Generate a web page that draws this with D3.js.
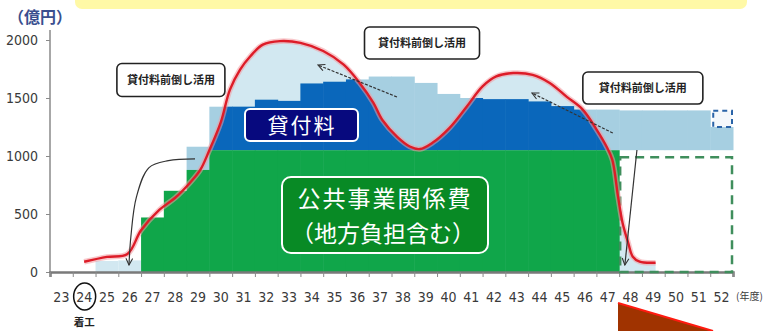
<!DOCTYPE html>
<html>
<head>
<meta charset="utf-8">
<script src="https://cdn.jsdelivr.net/npm/d3@7"></script>
<style>
  html, body { margin: 0; padding: 0; background: #fff; }
  svg { display: block; }
  .num { font-family: "Liberation Sans Narrow", "DejaVu Sans Condensed", "Liberation Sans", Arial, sans-serif; }
  .jp { font-family: "Noto Sans CJK JP", "Noto Sans", sans-serif; }
</style>
</head>
<body>
<svg id="chart" width="765" height="331"></svg>
<script>
// ---- data (億円, fiscal years) ----
const yearLabels = ["23","24","25","26","27","28","29","30","31","32","33","34","35","36","37",
                    "38","39","40","41","42","43","44","45","46","47","48","49","50","51","52"];
const yTickValues = [0, 500, 1000, 1500, 2000];

// public works spending (incl. local share)
const worksYears  = [27, 28, 29, 30, 31, 32, 33, 34, 35, 36, 37, 38, 39, 40, 41, 42, 43, 44, 45, 46, 47];
const worksValues = [470, 700, 880, 1050, 1050, 1050, 1050, 1050, 1050, 1050, 1050, 1050, 1050, 1050,
                     1050, 1050, 1050, 1050, 1050, 1050, 1050];

// loan fee, stacked on top of public works
const loanYears  = [30, 31, 32, 33, 34, 35, 36, 37, 38, 39, 40, 41, 42, 43, 44, 45, 46, 47];
const loanValues = [375, 375, 435, 425, 575, 590, 610, 635, 635, 580, 485, 450, 440, 440, 420, 380, 350, 350];

// loan fee brought forward
const advanceYears  = [29, 48, 49, 50, 51, 52];
const advanceBase   = [880, 1050, 1050, 1050, 1050, 1050];
const advanceValues = [200, 343, 343, 343, 343, 200];

// early small spending before works start
const earlyYears  = [25, 26];
const earlyValues = [95, 100];

// planned public works after the period (dashed outline)
const plannedYears = [48, 49, 50, 51, 52];
const plannedValue = 990;

// remaining loan fee (dashed outline)
const pendingYear  = 52;
const pendingBase  = 1250;
const pendingValue = 140;

// actual spending curve
const curveYears  = [24.0, 25.0, 25.9, 26.5, 27.3, 28.0, 28.65, 29.1, 29.5, 30.0, 30.4, 30.85, 31.3, 31.85,
                     32.6, 33.5, 34.5, 35.4, 36.1, 36.7, 37.1, 37.75, 38.3, 38.75, 39.3, 40.05, 40.8, 41.5,
                     42.1, 42.85, 43.7, 44.45, 45.2, 45.9, 46.5, 46.95, 47.2, 47.45, 47.65, 47.9, 48.1, 48.4, 49.1];
const curveValues = [88, 130, 155, 360, 535, 640, 770, 880, 1050, 1290, 1570, 1745, 1860, 1960,
                     1990, 1975, 1905, 1787, 1630, 1460, 1310, 1165, 1082, 1060, 1114, 1243, 1425, 1600,
                     1686, 1715, 1700, 1630, 1510, 1400, 1230, 1080, 967, 650, 423, 250, 132, 89, 80];

const calloutText = "貸付料前倒し活用";

// ---- layout ----
const svg = d3.select("#chart");
const plotLeft = 50, plotRight = 733, plotTop = 40, plotBottom = 272;

const x = d3.scaleBand().domain(yearLabels).range([plotLeft, plotRight]).padding(0);
const xl = d3.scaleLinear().domain([22.5, 52.5]).range([plotLeft, plotRight]);
const y = d3.scaleLinear().domain([0, 2000]).range([plotBottom, plotTop]);

const C = {
  green: "#10a64a", blue: "#0a67bb", mid: "#a6cfe1", pale: "#d2e8f1",
  red: "#dd1c28", halo: "#f39aa0"
};

const bx = yr => x(String(yr));
const bw = x.bandwidth();

// top yellow strip
svg.append("rect").attr("x", 75).attr("y", -10).attr("width", 672).attr("height", 19)
  .attr("rx", 7).attr("fill", "#fff9a6");

// unit label
svg.append("text").attr("class", "jp").attr("x", 8).attr("y", 23)
  .attr("font-size", 16).attr("font-weight", "bold").attr("fill", "#3a4f8f")
  .text("（億円）");

const defs = svg.append("defs");
const area = d3.area().x((d, i) => xl(curveYears[i])).y0(y(0)).y1(d => y(d))
  .curve(d3.curveCatmullRom.alpha(0.5));
const line = d3.line().x((d, i) => xl(curveYears[i])).y(d => y(d))
  .curve(d3.curveCatmullRom.alpha(0.5));

defs.append("clipPath").attr("id", "under-curve")
  .append("path").attr("d", area(curveValues));
defs.append("clipPath").attr("id", "from-30")
  .append("rect").attr("x", xl(29.5)).attr("y", 0).attr("width", 600).attr("height", 331);

// pale fill under the spending curve
svg.append("path").attr("d", area(curveValues)).attr("fill", C.pale)
  .attr("clip-path", "url(#from-30)");

// early spending blocks
svg.append("g").selectAll("rect").data(earlyYears).join("rect")
  .attr("x", d => bx(d)).attr("width", bw)
  .attr("y", (d, i) => y(earlyValues[i])).attr("height", (d, i) => y(0) - y(earlyValues[i]))
  .attr("fill", C.pale);

// loan fee bars, full height (shows above curve where curve dips)
const worksAt = yr => worksValues[worksYears.indexOf(yr)];
svg.append("g").selectAll("rect").data(loanYears).join("rect")
  .attr("x", d => bx(d)).attr("width", bw + 0.5)
  .attr("y", (d, i) => y(worksAt(d) + loanValues[i]))
  .attr("height", (d, i) => y(worksAt(d)) - y(worksAt(d) + loanValues[i]))
  .attr("fill", C.mid);

// brought-forward loan fee
svg.append("g").selectAll("rect").data(advanceYears).join("rect")
  .attr("x", d => bx(d)).attr("width", bw + 0.5)
  .attr("y", (d, i) => y(advanceBase[i] + advanceValues[i]))
  .attr("height", (d, i) => y(advanceBase[i]) - y(advanceBase[i] + advanceValues[i]))
  .attr("fill", C.mid);

// loan fee actually used (under the curve)
svg.append("g").attr("clip-path", "url(#under-curve)")
  .selectAll("rect").data(loanYears).join("rect")
  .attr("x", d => bx(d)).attr("width", bw + 0.5)
  .attr("y", (d, i) => y(worksAt(d) + loanValues[i]))
  .attr("height", (d, i) => y(worksAt(d)) - y(worksAt(d) + loanValues[i]))
  .attr("fill", C.blue);

// public works bars
svg.append("g").selectAll("rect").data(worksYears).join("rect")
  .attr("x", d => bx(d)).attr("width", bw + 0.5)
  .attr("y", (d, i) => y(worksValues[i])).attr("height", (d, i) => y(0) - y(worksValues[i]))
  .attr("fill", C.green);

// pending loan fee (dashed)
svg.append("rect")
  .attr("x", bx(pendingYear) + 3).attr("width", bw - 4)
  .attr("y", y(pendingBase + pendingValue)).attr("height", y(pendingBase) - y(pendingBase + pendingValue))
  .attr("fill", "#f4f8fb").attr("stroke", "#2a64a8").attr("stroke-width", 2)
  .attr("stroke-dasharray", "5,4");

// axes
const yAxis = svg.append("g").attr("transform", `translate(${plotLeft},0)`)
  .call(d3.axisLeft(y).tickValues(yTickValues).tickFormat(d3.format("d")).tickSize(4).tickPadding(8));
yAxis.select(".domain").remove();
yAxis.selectAll("line").attr("stroke", "#8a8a8a");
yAxis.selectAll("text").attr("class", "num").attr("font-size", 14).attr("fill", "#3a3a3a");
svg.append("line").attr("x1", plotLeft).attr("x2", plotLeft).attr("y1", 30).attr("y2", plotBottom)
  .attr("stroke", "#8a8a8a").attr("stroke-width", 1.5);

const edgeTicks = d3.range(0, yearLabels.length + 1).map(i => 22.5 + i);
const xTicks = svg.append("g").attr("transform", `translate(0,${plotBottom})`)
  .call(d3.axisBottom(xl).tickValues(edgeTicks).tickSize(5).tickFormat(""));
xTicks.select(".domain").attr("stroke", "#7a7a7a").attr("stroke-width", 2.5);
xTicks.selectAll("line").attr("stroke", "#8a8a8a");

const xLabels = svg.append("g").attr("transform", `translate(0,${plotBottom})`)
  .call(d3.axisBottom(x).tickSize(0).tickPadding(20));
xLabels.select(".domain").remove();
xLabels.selectAll("text").attr("class", "num").attr("font-size", 14).attr("fill", "#3a3a3a");

svg.append("text").attr("class", "jp").attr("x", 736).attr("y", 300)
  .attr("font-size", 10).attr("fill", "#3a3a3a").text("(年度)");

// planned public works outline (dashed)
svg.append("rect")
  .attr("x", bx(plannedYears[0]) + 1).attr("y", y(plannedValue))
  .attr("width", bx(plannedYears[plannedYears.length - 1]) + bw - bx(plannedYears[0]) - 2)
  .attr("height", y(0) - y(plannedValue))
  .attr("fill", "none").attr("stroke", "#3f8e5c").attr("stroke-width", 2.5)
  .attr("stroke-dasharray", "9,6");

// spending curve
svg.append("path").attr("d", line(curveValues)).attr("fill", "none")
  .attr("stroke", C.halo).attr("stroke-width", 5.5).attr("stroke-opacity", 0.55);
svg.append("path").attr("d", line(curveValues)).attr("fill", "none")
  .attr("stroke", C.red).attr("stroke-width", 2.4);

// arrows
const mk = defs.append("marker").attr("id", "head").attr("viewBox", "0 0 10 10")
  .attr("refX", 9).attr("refY", 5).attr("markerWidth", 7).attr("markerHeight", 7)
  .attr("orient", "auto-start-reverse");
mk.append("path").attr("d", "M1,1 L9,5 L1,9").attr("fill", "none").attr("stroke", "#333")
  .attr("stroke-width", 1.3);

const arrowLine = d3.line().x(d => xl(d[0])).y(d => y(d[1])).curve(d3.curveCatmullRom.alpha(0.5));
const arrows = [
  { pts: [[37.74, 1509], [34.27, 1784]], dash: "3,1.5" },
  { pts: [[47.22, 1198], [43.67, 1543]], dash: "3,1.5" },
  { pts: [[28.87, 975], [27.7, 960], [26.85, 900], [26.3, 650], [26.05, 300], [25.97, 60]], dash: null },
  { pts: [[48.28, 1052], [47.75, 60]], dash: null }
];
arrows.forEach(a => {
  svg.append("path").attr("d", arrowLine(a.pts)).attr("fill", "none")
    .attr("stroke", "#333").attr("stroke-width", 1.2)
    .attr("stroke-dasharray", a.dash)
    .attr("marker-end", "url(#head)");
});

// callouts
const callouts = [
  { cx: 27.81, cy: 1655, w: 108, h: 33 },
  { cx: 38.84, cy: 1974, w: 115, h: 32 },
  { cx: 48.54, cy: 1586, w: 120, h: 32 }
];
callouts.forEach(c => {
  const px = xl(c.cx), py = y(c.cy);
  svg.append("rect").attr("x", px - c.w / 2).attr("y", py - c.h / 2)
    .attr("width", c.w).attr("height", c.h).attr("rx", 5)
    .attr("fill", "#fff").attr("stroke", "#222").attr("stroke-width", 1.6);
  svg.append("text").attr("class", "jp").attr("x", px).attr("y", py + 4)
    .attr("text-anchor", "middle").attr("font-size", 11).attr("font-weight", "bold")
    .attr("fill", "#222").text(calloutText);
});

// series labels
svg.append("rect").attr("x", 245).attr("y", 109).attr("width", 113).attr("height", 32)
  .attr("rx", 5).attr("fill", "#07097e").attr("stroke", "#fff").attr("stroke-width", 2);
svg.append("text").attr("class", "jp").attr("x", 302).attr("y", 133)
  .attr("text-anchor", "middle").attr("font-size", 21).attr("letter-spacing", 2)
  .attr("fill", "#fff").text("貸付料");

svg.append("rect").attr("x", 282).attr("y", 177).attr("width", 206).attr("height", 76)
  .attr("rx", 9).attr("fill", "#088a25").attr("stroke", "#fff").attr("stroke-width", 2);
svg.append("text").attr("class", "jp").attr("x", 385).attr("y", 207)
  .attr("text-anchor", "middle").attr("font-size", 23).attr("letter-spacing", 2)
  .attr("fill", "#fff").text("公共事業関係費");
svg.append("text").attr("class", "jp").attr("x", 383).attr("y", 242)
  .attr("text-anchor", "middle").attr("font-size", 23)
  .attr("fill", "#fff").text("（地方負担含む）");

// construction start marker
svg.append("ellipse").attr("cx", x("24") + bw / 2 + 0.5).attr("cy", 296.5)
  .attr("rx", 11).attr("ry", 13.5).attr("fill", "none").attr("stroke", "#111").attr("stroke-width", 1.5);
svg.append("text").attr("class", "jp").attr("x", x("24") + bw / 2).attr("y", 326)
  .attr("text-anchor", "middle").attr("font-size", 10.5).attr("font-weight", "bold")
  .attr("fill", "#222").text("着工");

// pointer wedge
svg.append("path").attr("d", "M618,303 L713,331 L618,331 Z").attr("fill", "#a03300");
svg.append("line").attr("x1", 618).attr("y1", 303).attr("x2", 713).attr("y2", 331)
  .attr("stroke", "#ff1a10").attr("stroke-width", 2);
</script>
</body>
</html>
